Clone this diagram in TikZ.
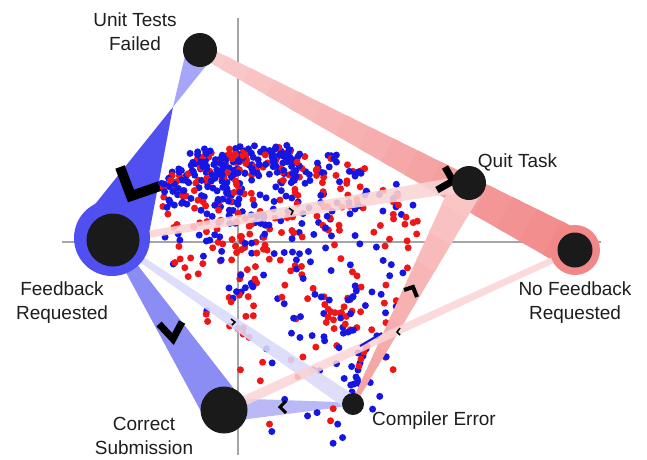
\documentclass[tikz,border=0pt]{standalone}
\usepackage{fontspec}
\setmainfont{Liberation Sans}
\definecolor{blueD}{RGB}{80,80,240}
\definecolor{blueL}{RGB}{165,165,250}
\definecolor{blueM}{RGB}{140,140,245}
\definecolor{blueCE}{RGB}{185,185,248}
\definecolor{lav}{RGB}{218,218,250}
\definecolor{pinkL}{RGB}{250,205,205}
\definecolor{pinkD}{RGB}{242,135,135}
\definecolor{pinkCE}{RGB}{244,160,160}
\definecolor{pinkQT}{RGB}{250,200,200}
\definecolor{pale}{RGB}{250,212,212}
\definecolor{dotR}{RGB}{238,22,22}
\definecolor{dotB}{RGB}{22,22,228}
\definecolor{nodeK}{RGB}{26,26,26}
\definecolor{axisG}{RGB}{165,165,165}
\definecolor{txt}{RGB}{30,30,30}
\makeatletter
% tapered band from node #1 (half width #3, colour #5) to node #2 (half width #4, colour #6), #7 steps, #8 extra options
\newcommand\tband[8]{%
  \pgfpointanchor{#1}{center}\edef\tbAx{\strip@pt\pgf@x}\edef\tbAy{\strip@pt\pgf@y}%
  \pgfpointanchor{#2}{center}\edef\tbBx{\strip@pt\pgf@x}\edef\tbBy{\strip@pt\pgf@y}%
  \pgfmathsetmacro\tbDx{\tbBx-\tbAx}%
  \pgfmathsetmacro\tbDy{\tbBy-\tbAy}%
  \pgfmathsetmacro\tbL{veclen(\tbDx,\tbDy)}%
  \pgfmathsetmacro\tbPx{-\tbDy/\tbL}%
  \pgfmathsetmacro\tbPy{\tbDx/\tbL}%
  \foreach \tbi in {1,...,#7}{%
    \pgfmathsetmacro\tbTa{(\tbi-1)/#7}%
    \pgfmathsetmacro\tbTb{min(1,\tbi/#7+0.02)}%
    \pgfmathsetmacro\tbWa{#3+(#4-#3)*\tbTa}%
    \pgfmathsetmacro\tbWb{#3+(#4-#3)*\tbTb}%
    \pgfmathtruncatemacro\tbPct{100*(\tbi-0.5)/#7}%
    \pgfmathsetmacro\tbXa{\tbAx+\tbDx*\tbTa}%
    \pgfmathsetmacro\tbYa{\tbAy+\tbDy*\tbTa}%
    \pgfmathsetmacro\tbXb{\tbAx+\tbDx*\tbTb}%
    \pgfmathsetmacro\tbYb{\tbAy+\tbDy*\tbTb}%
    \pgfmathsetmacro\tbXap{\tbXa+\tbPx*\tbWa}\pgfmathsetmacro\tbYap{\tbYa+\tbPy*\tbWa}%
    \pgfmathsetmacro\tbXam{\tbXa-\tbPx*\tbWa}\pgfmathsetmacro\tbYam{\tbYa-\tbPy*\tbWa}%
    \pgfmathsetmacro\tbXbp{\tbXb+\tbPx*\tbWb}\pgfmathsetmacro\tbYbp{\tbYb+\tbPy*\tbWb}%
    \pgfmathsetmacro\tbXbm{\tbXb-\tbPx*\tbWb}\pgfmathsetmacro\tbYbm{\tbYb-\tbPy*\tbWb}%
    \fill[#6!\tbPct!#5,#8] (\tbXap pt,\tbYap pt) -- (\tbXbp pt,\tbYbp pt) -- (\tbXbm pt,\tbYbm pt) -- (\tbXam pt,\tbYam pt) -- cycle;
  }}
\makeatother
\begin{document}
\begin{tikzpicture}[x=1pt,y=-1pt,
  lab/.style={font=\fontsize{19}{24}\selectfont, text=txt, inner sep=0pt, align=center},
  state/.style={circle, fill=nodeK, inner sep=0pt},
  chev/.style={draw=black, line join=miter, line cap=butt},
  axisline/.style={draw=axisG, line width=1.1pt},
  dotr/.style={fill=dotR}, dotb/.style={fill=dotB}]
\useasboundingbox (0,0) rectangle (647,459);
\fill[white] (0,0) rectangle (647,459);
% centres
\coordinate (pUTF) at (200,50);
\coordinate (pQT) at (469,183);
\coordinate (pNFR) at (575,250);
\coordinate (pFR) at (113,240);
\coordinate (pCS) at (224,410);
\coordinate (pCE) at (353,404);
% axes
\coordinate (axT) at (238,18); \coordinate (axB) at (238,455);
\coordinate (axL) at (62,242); \coordinate (axR) at (601,242);
\draw[axisline] (axT) -- (axB);
\draw[axisline] (axL) -- (axR);
% strong bands
\tband{pFR}{pCS}{4}{21}{blueM}{blueM}{1}{}
\tband{pCS}{pCE}{12}{1.5}{blueCE}{blueCE}{1}{}
\tband{pUTF}{pNFR}{6}{20}{pinkL}{pinkD}{16}{}
\fill[blueD] (173,107) -- (76,228) -- (146,250) -- cycle;
\fill[blueL] (173,107) -- (213,57) -- (185,56) -- cycle;
\draw[chev, line width=10pt] (120,167) -- (131,196) -- (160,186);
% dots
\pgfmathsetseed{11}
\foreach \ya/\yb/\xa/\xb/\nn/\pb in {
  145/155/235/310/14/0.6, 155/165/195/350/40/0.65, 165/180/170/370/60/0.6,
  180/195/160/400/55/0.55, 195/210/158/415/45/0.5, 210/225/158/420/38/0.5,
  225/245/160/420/42/0.45, 245/265/165/418/32/0.45, 265/290/180/415/34/0.45,
  290/330/205/405/44/0.5, 330/370/238/395/26/0.5, 370/410/250/380/13/0.6,
  410/445/262/345/8/0.7, 148/168/195/300/50/0.72, 150/175/180/300/50/0.72,
  168/205/160/240/65/0.72, 210/260/195/270/28/0.3, 295/335/320/355/22/0.5}{
  \foreach \k in {1,...,\nn}{
    \pgfmathsetmacro\dotX{\xa+(\xb-\xa)*rnd}
    \pgfmathsetmacro\dotY{\ya+(\yb-\ya)*rnd}
    \pgfmathtruncatemacro\isb{rnd<\pb}
    \ifnum\isb=1\relax \fill[dotb] (\dotX,\dotY) circle[radius=3.5pt];\else \fill[dotr] (\dotX,\dotY) circle[radius=3.5pt];\fi
  }}
\foreach \q in {(352,392),(354,384),(356,377),(358,370),(360,363),(363,356),(366,349)}
  \fill[dotb] \q circle[radius=3.5pt];
\foreach \q in {(359,366),(361,359),(364,352),(367,346)}
  \fill[dotr] \q circle[radius=3.5pt];
% pale bands
\tband{pCE}{pQT}{2}{16}{pinkCE}{pinkQT}{8}{}
\tband{pFR}{pQT}{3}{8}{pale}{pale}{1}{opacity=0.88}
\tband{pFR}{pCE}{2.5}{8}{lav}{lav}{1}{opacity=0.88}
\tband{pCS}{pNFR}{5}{3}{pale}{pale}{1}{opacity=0.85}
\coordinate (bl1) at (360,346); \coordinate (bl2) at (382,333);
\draw[dotB, line width=2pt] (bl1) -- (bl2);
% halos
\fill[blueD] (112,238) circle[radius=38pt];
\fill[pinkD] (pNFR) circle[radius=25pt];
% chevrons
\draw[chev, line width=7pt] (159,324) -- (173,339) -- (182,322);
\draw[chev, line width=3pt] (286,401) -- (280,407) -- (286,413);
\draw[chev, line width=1.5pt] (231,319) -- (235,322) -- (232,325);
\draw[chev, line width=1.5pt] (289,208) -- (293,211) -- (291,215);
\draw[chev, line width=7pt] (445,167) -- (453,181) -- (437,190);
\draw[chev, line width=4pt] (404,290) -- (413,287) -- (417,297);
\draw[chev, line width=1.5pt] (400,328) -- (397,332) -- (400,335);
% states
\node[state, minimum size=34pt] (UTF) at (pUTF) {};
\node[state, minimum size=34pt] (QT) at (pQT) {};
\node[state, minimum size=35pt] (NFR) at (pNFR) {};
\node[state, minimum size=53pt] (FR) at (pFR) {};
\node[state, minimum size=47pt] (CS) at (pCS) {};
\node[state, minimum size=22pt] (CE) at (pCE) {};
% labels
\node[lab] (lUTF) at (135,32) {Unit Tests\\Failed};
\node[lab, anchor=base] (lQT) at (517.5,167) {Quit Task};
\node[lab] (lNFR) at (575,302.5) {No Feedback\\Requested};
\node[lab] (lFR) at (62,302.5) {Feedback\\Requested};
\node[lab] (lCS) at (144,436) {Correct\\Submission};
\node[lab, anchor=base] (lCE) at (434,425) {Compiler Error};
\end{tikzpicture}
\end{document}
